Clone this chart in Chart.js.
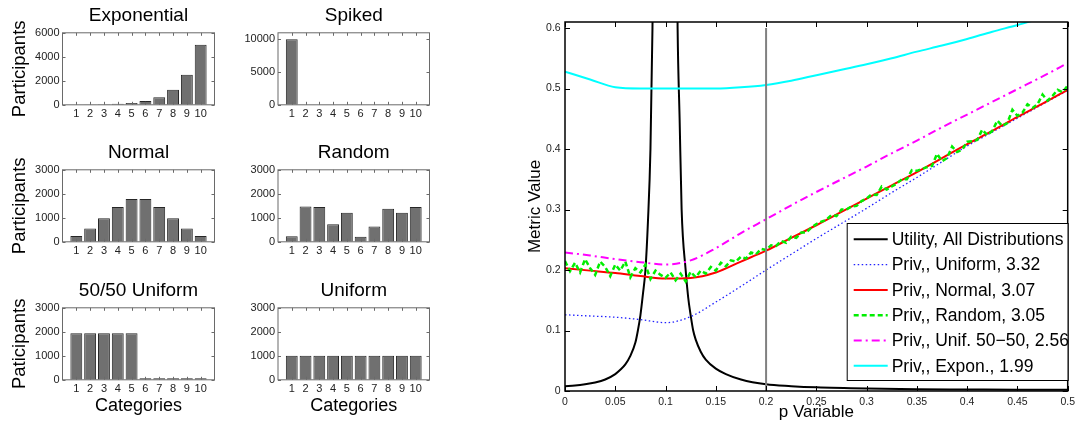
<!DOCTYPE html>
<html>
<head>
<meta charset="utf-8">
<script src="https://cdn.jsdelivr.net/npm/chart.js@4.4.1/dist/chart.umd.min.js"></script>
<style>
  html, body { margin: 0; padding: 0; background: #fff; }
  body { width: 1080px; height: 430px; position: relative; overflow: hidden; }
  canvas { position: absolute; }
</style>
</head>
<body>
<canvas id="expChart" width="225" height="125" style="left:0;top:0"></canvas>
<canvas id="spikeChart" width="215" height="125" style="left:225px;top:0"></canvas>
<canvas id="normalChart" width="225" height="125" style="left:0;top:137px"></canvas>
<canvas id="randomChart" width="215" height="125" style="left:225px;top:137px"></canvas>
<canvas id="halfChart" width="225" height="155" style="left:0;top:275px"></canvas>
<canvas id="uniformChart" width="215" height="155" style="left:225px;top:275px"></canvas>
<canvas id="metricChart" width="580" height="430" style="left:500px;top:0"></canvas>

<script>
Chart.defaults.font.family = '"Liberation Sans", Arial, sans-serif';
Chart.defaults.color = "#222";

// -----------------------------
// Distribution panels
// -----------------------------
const categories = [1, 2, 3, 4, 5, 6, 7, 8, 9, 10];

const expValues = [10, 20, 39, 78, 156, 312, 625, 1250, 2500, 5000];
const spikedValues = [10000, 0, 0, 0, 0, 0, 0, 0, 0, 0];
const normalValues = [240, 550, 980, 1450, 1780, 1780, 1450, 980, 550, 240];
const randomValues = [230, 1470, 1445, 735, 1210, 210, 640, 1375, 1210, 1445];
const halfValues = [1940, 1940, 1940, 1940, 1940, 60, 60, 60, 60, 60];
const uniformValues = [1000, 1000, 1000, 1000, 1000, 1000, 1000, 1000, 1000, 1000];

const expTicks = [0, 2000, 4000, 6000];
const spikedTicks = [0, 5000, 10000];
const thousandTicks = [0, 1000, 2000, 3000];

// -----------------------------
// Metric chart data
// -----------------------------
const pTicks = [0, 0.05, 0.1, 0.15, 0.2, 0.25, 0.3, 0.35, 0.4, 0.45, 0.5];
const metricTicks = [0, 0.1, 0.2, 0.3, 0.4, 0.5, 0.6];

const pUtility = [0, 0.01, 0.02, 0.03, 0.04, 0.05, 0.055, 0.06, 0.065, 0.07, 0.0725, 0.075, 0.0775,
    0.08, 0.0825, 0.085, 0.087, 0.0995, 0.112, 0.114, 0.116, 0.12, 0.1225, 0.125, 0.1275, 0.13,
    0.135, 0.14, 0.15, 0.16, 0.175, 0.2, 0.225, 0.25, 0.3, 0.35, 0.4, 0.45, 0.5];
const utility = [0.008, 0.009, 0.011, 0.014, 0.019, 0.028, 0.035, 0.044, 0.058, 0.08, 0.1, 0.125, 0.16,
    0.2, 0.28, 0.4, 0.6, 3.0, 0.6, 0.45, 0.3, 0.2, 0.155, 0.125, 0.1, 0.085,
    0.065, 0.052, 0.037, 0.028, 0.019, 0.011, 0.008, 0.006, 0.004, 0.003, 0.0025, 0.002, 0.002];

const pCoarse = [0, 0.025, 0.05, 0.075, 0.1, 0.125, 0.15, 0.175, 0.2, 0.225, 0.25,
    0.275, 0.3, 0.325, 0.35, 0.375, 0.4, 0.425, 0.45, 0.475, 0.5];
const privUniform = [0.126, 0.124, 0.122, 0.118, 0.113, 0.123, 0.147, 0.173, 0.200, 0.226, 0.252,
    0.277, 0.302, 0.328, 0.353, 0.379, 0.405, 0.428, 0.451, 0.474, 0.497];
const privNormal = [0.203, 0.199, 0.195, 0.190, 0.186, 0.187, 0.196, 0.214, 0.232, 0.253, 0.274,
    0.296, 0.318, 0.340, 0.362, 0.385, 0.408, 0.430, 0.453, 0.475, 0.498];
const privHalf = [0.229, 0.224, 0.218, 0.213, 0.209, 0.216, 0.236, 0.261, 0.284, 0.307, 0.329,
    0.350, 0.371, 0.393, 0.414, 0.436, 0.457, 0.478, 0.499, 0.520, 0.542];
const privExpon = [0.528, 0.515, 0.502, 0.500, 0.500, 0.500, 0.500, 0.502, 0.506, 0.513, 0.522,
    0.531, 0.540, 0.550, 0.561, 0.571, 0.582, 0.594, 0.605, 0.617, 0.628];

const pFine = [
    0.000, 0.005, 0.010, 0.015, 0.020, 0.025, 0.030, 0.035, 0.040, 0.045,
    0.050, 0.055, 0.060, 0.065, 0.070, 0.075, 0.080, 0.085, 0.090, 0.095,
    0.100, 0.105, 0.110, 0.115, 0.120, 0.125, 0.130, 0.135, 0.140, 0.145,
    0.150, 0.155, 0.160, 0.165, 0.170, 0.175, 0.180, 0.185, 0.190, 0.195,
    0.200, 0.205, 0.210, 0.215, 0.220, 0.225, 0.230, 0.235, 0.240, 0.245,
    0.250, 0.255, 0.260, 0.265, 0.270, 0.275, 0.280, 0.285, 0.290, 0.295,
    0.300, 0.305, 0.310, 0.315, 0.320, 0.325, 0.330, 0.335, 0.340, 0.345,
    0.350, 0.355, 0.360, 0.365, 0.370, 0.375, 0.380, 0.385, 0.390, 0.395,
    0.400, 0.405, 0.410, 0.415, 0.420, 0.425, 0.430, 0.435, 0.440, 0.445,
    0.450, 0.455, 0.460, 0.465, 0.470, 0.475, 0.480, 0.485, 0.490, 0.495,
    0.500];
const privRandom = [
    0.215, 0.198, 0.212, 0.196, 0.218, 0.203, 0.192, 0.214, 0.205, 0.190,
    0.209, 0.199, 0.214, 0.188, 0.203, 0.196, 0.209, 0.185, 0.199, 0.192,
    0.187, 0.196, 0.183, 0.194, 0.181, 0.197, 0.188, 0.199, 0.194, 0.205,
    0.199, 0.212, 0.206, 0.216, 0.214, 0.222, 0.219, 0.229, 0.226, 0.235,
    0.233, 0.241, 0.240, 0.248, 0.245, 0.255, 0.253, 0.262, 0.262, 0.270,
    0.276, 0.280, 0.283, 0.291, 0.289, 0.300, 0.300, 0.305, 0.306, 0.314,
    0.318, 0.325, 0.324, 0.338, 0.333, 0.338, 0.343, 0.350, 0.350, 0.365,
    0.364, 0.367, 0.370, 0.372, 0.392, 0.380, 0.385, 0.404, 0.395, 0.399,
    0.412, 0.413, 0.415, 0.432, 0.423, 0.430, 0.447, 0.438, 0.443, 0.465,
    0.455, 0.460, 0.474, 0.468, 0.474, 0.490, 0.480, 0.488, 0.498, 0.494,
    0.505];

// reference line at p = 0.2
const markerP = [0.2, 0.2];
const markerY = [0, 0.6];

const pairs = (xs, ys) => ys.map((v, i) => ({ x: xs[i], y: v }));

// -----------------------------
// Box + inward tick marks (MATLAB style axes)
// -----------------------------
const frame = {
    id: "frame",
    afterDatasetsDraw(chart, args, opts) {
        const { ctx, chartArea: a, scales: { x, y } } = chart;
        ctx.save();
        ctx.strokeStyle = opts.color;
        ctx.lineWidth = opts.width;
        ctx.strokeRect(a.left, a.top, a.right - a.left, a.bottom - a.top);
        ctx.lineWidth = 1;
        ctx.beginPath();
        x.ticks.forEach(t => {
            const px = Math.round(x.getPixelForValue(t.value)) + 0.5;
            ctx.moveTo(px, a.bottom); ctx.lineTo(px, a.bottom - opts.len);
            ctx.moveTo(px, a.top); ctx.lineTo(px, a.top + opts.len);
        });
        y.ticks.forEach(t => {
            const py = Math.round(y.getPixelForValue(t.value)) + 0.5;
            ctx.moveTo(a.left, py); ctx.lineTo(a.left + opts.len, py);
            ctx.moveTo(a.right, py); ctx.lineTo(a.right - opts.len, py);
        });
        ctx.stroke();
        ctx.restore();
    }
};

function barPanel(id, title, values, yTicks, yMax, yTitle, xTitle, yWidth, xHeight) {
    return new Chart(document.getElementById(id), {
        type: "bar",
        data: {
            datasets: [{
                data: pairs(categories, values),
                backgroundColor: "#707070",
                borderColor: "#262626",
                borderWidth: 1,
                barPercentage: 0.86,
                categoryPercentage: 1
            }]
        },
        options: {
            responsive: false,
            animation: false,
            events: [],
            layout: { padding: { right: 10.5 } },
            plugins: {
                legend: { display: false },
                tooltip: { enabled: false },
                title: {
                    display: true, text: title, color: "#000", fullSize: false,
                    font: { size: 19, weight: "normal" },
                    padding: { top: 4, bottom: 6 }
                },
                frame: { color: "#6a6a6a", width: 1, len: 3 }
            },
            scales: {
                x: {
                    type: "linear", min: 0, max: 11, offset: false,
                    grid: { display: false, drawTicks: false },
                    border: { display: false },
                    afterBuildTicks: s => { s.ticks = categories.map(v => ({ value: v })); },
                    ticks: { font: { size: 11 }, padding: 3, maxRotation: 0, autoSkip: false,
                             callback: v => String(v) },
                    title: { display: !!xTitle, text: xTitle, color: "#000",
                             font: { size: 18 }, padding: { top: 0, bottom: 12.7 } },
                    afterFit: s => { s.height = xHeight; }
                },
                y: {
                    min: 0, max: yMax,
                    grid: { display: false, drawTicks: false },
                    border: { display: false },
                    afterBuildTicks: s => { s.ticks = yTicks.map(v => ({ value: v })); },
                    ticks: { font: { size: 11 }, padding: 3, callback: v => String(v) },
                    title: { display: !!yTitle, text: yTitle, color: "#000",
                             font: { size: 18.5 }, padding: { top: 8.9, bottom: 0 } },
                    afterFit: s => { s.width = yWidth; }
                }
            }
        },
        plugins: [frame]
    });
}

barPanel("expChart", "Exponential", expValues, expTicks, 6000, "Participants", "", 62.5, 20.2);
barPanel("spikeChart", "Spiked", spikedValues, spikedTicks, 11000, "", "", 53, 20.2);
barPanel("normalChart", "Normal", normalValues, thousandTicks, 3000, "Participants", "", 62.5, 20.2);
barPanel("randomChart", "Random", randomValues, thousandTicks, 3000, "", "", 53, 20.2);
barPanel("halfChart", "50/50 Uniform", halfValues, thousandTicks, 3000, "Paticipants", "Categories", 62.5, 50.2);
barPanel("uniformChart", "Uniform", uniformValues, thousandTicks, 3000, "", "Categories", 53, 50.2);

// -----------------------------
// Legend box inside the plot, lower right
// -----------------------------
const boxLegend = {
    id: "boxLegend",
    afterDraw(chart, args, o) {
        const { ctx, chartArea: a } = chart;
        const items = chart.data.datasets.filter(d => d.label);
        const bx = a.right - o.w, by = a.bottom - o.gap - o.h;
        ctx.save();
        ctx.fillStyle = "#fff";
        ctx.fillRect(bx, by, o.w, o.h);
        ctx.strokeStyle = "#000";
        ctx.lineWidth = 1;
        ctx.strokeRect(bx + 0.5, by + 0.5, o.w, o.h);
        ctx.font = o.fontSize + 'px "Liberation Sans", Arial, sans-serif';
        ctx.textBaseline = "middle";
        items.forEach((d, i) => {
            const yy = by + o.first + i * o.step;
            ctx.beginPath();
            ctx.setLineDash(d.borderDash || []);
            ctx.strokeStyle = d.borderColor;
            ctx.lineWidth = d.borderWidth;
            ctx.moveTo(bx + 7, yy);
            ctx.lineTo(bx + 41, yy);
            ctx.stroke();
            ctx.setLineDash([]);
            ctx.fillStyle = "#000";
            ctx.fillText(d.label, bx + 45, yy + 1);
        });
        ctx.restore();
    }
};

new Chart(document.getElementById("metricChart"), {
    type: "line",
    data: {
        datasets: [
            {
                label: "Utility, All Distributions",
                data: pairs(pUtility, utility),
                borderColor: "#000000", borderWidth: 2,
                cubicInterpolationMode: "monotone", order: 6
            },
            {
                label: "Priv,, Uniform, 3.32",
                data: pairs(pCoarse, privUniform),
                borderColor: "#2020ff", borderWidth: 1.3, borderDash: [1.5, 2.5],
                cubicInterpolationMode: "monotone", order: 5
            },
            {
                label: "Priv,, Normal, 3.07",
                data: pairs(pCoarse, privNormal),
                borderColor: "#ff0000", borderWidth: 2,
                cubicInterpolationMode: "monotone", order: 4
            },
            {
                label: "Priv,, Random, 3.05",
                data: pairs(pFine, privRandom),
                borderColor: "#00ee00", borderWidth: 2.5, borderDash: [5, 3],
                order: 3
            },
            {
                label: "Priv,, Unif. 50\u221250, 2.56",
                data: pairs(pCoarse, privHalf),
                borderColor: "#ff00ff", borderWidth: 2, borderDash: [8, 4, 2, 4],
                cubicInterpolationMode: "monotone", order: 2
            },
            {
                label: "Priv,, Expon., 1.99",
                data: pairs(pCoarse, privExpon),
                borderColor: "#00ffff", borderWidth: 2,
                cubicInterpolationMode: "monotone", order: 1
            },
            {
                data: pairs(markerP, markerY),
                borderColor: "#808080", borderWidth: 2, order: 0
            }
        ]
    },
    options: {
        responsive: false,
        animation: false,
        events: [],
        elements: { point: { radius: 0 } },
        layout: { padding: { top: 22, right: 11 } },
        plugins: {
            legend: { display: false },
            tooltip: { enabled: false },
            frame: { color: "#000", width: 1.5, len: 5 },
            boxLegend: { w: 221, h: 157, gap: 11, first: 16.3, step: 25.3, fontSize: 17.5 }
        },
        scales: {
            x: {
                type: "linear", min: 0, max: 0.5,
                grid: { display: false, drawTicks: false },
                border: { display: false },
                afterBuildTicks: s => { s.ticks = pTicks.map(v => ({ value: v })); },
                ticks: { font: { size: 10.5 }, padding: 5, maxRotation: 0,
                         callback: v => String(+v.toFixed(2)) },
                title: { display: true, text: "p Variable", color: "#000",
                         font: { size: 17 }, padding: { top: 0, bottom: 7.8 } },
                afterFit: s => { s.height = 39; }
            },
            y: {
                min: 0, max: 0.61,
                grid: { display: false, drawTicks: false },
                border: { display: false },
                afterBuildTicks: s => { s.ticks = metricTicks.map(v => ({ value: v })); },
                ticks: { font: { size: 10.5 }, padding: 4.3,
                         callback: v => String(+v.toFixed(2)) },
                title: { display: true, text: "Metric Value", color: "#000",
                         font: { size: 17 }, padding: { top: 24.8, bottom: 0 } },
                afterFit: s => { s.width = 65; }
            }
        }
    },
    plugins: [frame, boxLegend]
});
</script>
</body>
</html>
